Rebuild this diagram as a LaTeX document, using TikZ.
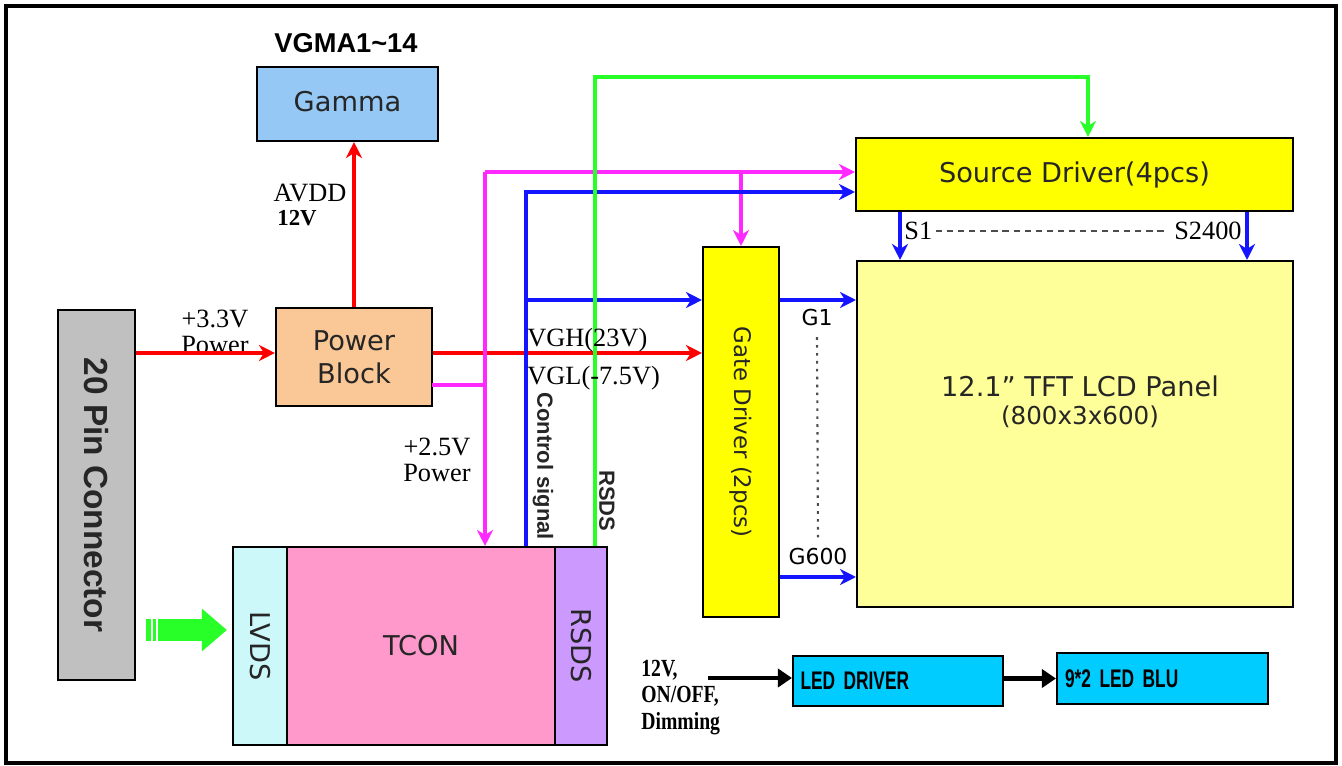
\documentclass[tikz,border=0pt]{standalone}
\usepackage{fontspec}
\setmainfont{Liberation Serif}
\setsansfont{DejaVu Sans}
\newfontfamily\arialfont{Liberation Sans}
\newfontfamily\narrowfont[FakeStretch=0.68]{Liberation Sans}
\newfontfamily\narrowserif[FakeStretch=0.8]{Liberation Serif}
\usetikzlibrary{arrows.meta, positioning, calc}

\definecolor{gammablue}{RGB}{150,200,245}
\definecolor{powerorange}{RGB}{250,200,150}
\definecolor{conngray}{RGB}{192,192,192}
\definecolor{drvyellow}{RGB}{255,255,0}
\definecolor{panelyellow}{RGB}{255,255,153}
\definecolor{lvdscyan}{RGB}{204,248,250}
\definecolor{tconpink}{RGB}{255,153,204}
\definecolor{rsdsviolet}{RGB}{204,153,255}
\definecolor{ledcyan}{RGB}{0,204,255}
\definecolor{wirered}{RGB}{255,0,0}
\definecolor{wiremag}{RGB}{255,40,255}
\definecolor{wireblue}{RGB}{20,20,255}
\definecolor{wiregreen}{RGB}{40,255,40}

\begin{document}
\begin{tikzpicture}[
    x=0.02cm, y=-0.02cm,
    block/.style={rectangle, draw, line width=1.2pt, inner sep=0pt, align=center, text=black!85, font=\sffamily\fontsize{15.5}{19}\selectfont},
    vlabel/.style={rotate=-90, inner sep=0pt, text=black!85},
    lbl/.style={inner sep=0pt, align=center, font=\fontsize{15}{17}\selectfont},
    wire/.style={line width=2pt},
    arrow/.style={wire, -{Stealth[length=0.32cm, width=0.32cm, inset=0.1cm]}},
    fat/.style={line width=2.8pt, -{Triangle[length=0.28cm, width=0.36cm]}},
]
\useasboundingbox (0,0) rectangle (1342,766);
\draw[line width=2pt] (6,6) rectangle (1336,763);

% gamma and power
\node[font=\arialfont\bfseries\fontsize{15.5}{18}\selectfont] (vgma) at (346,43) {VGMA1\textasciitilde14};
\node[block, fill=gammablue, minimum width=3.62cm, minimum height=1.48cm] (gamma) at (347.5,104) {\raisebox{0.12cm}{Gamma}};
\node[block, fill=powerorange, minimum width=3.12cm, minimum height=1.96cm] (power) at (354,357) {Power\\Block};
\node[lbl] (avdd) at (310,193) {AVDD};
\node[lbl, font=\bfseries\fontsize{13}{15}\selectfont, anchor=west] (avddv) at (277,218) {12V};

% connector
\node[block, fill=conngray, minimum width=1.54cm, minimum height=7.4cm] (conn) at (96.5,495) {};
\node[vlabel, font=\arialfont\bfseries\fontsize{19}{22}\selectfont] at (conn) {20 Pin Connector};
\node[lbl] (pin) at (215,332) {+3.3V\\[-2pt]Power};

% drivers and panel
\node[block, fill=drvyellow, minimum width=8.74cm, minimum height=1.46cm] (src) at (1074.5,174.5) {Source Driver(4pcs)};
\node[block, fill=drvyellow, minimum width=1.52cm, minimum height=7.4cm] (gate) at (741,432) {};
\node[vlabel, font=\sffamily\fontsize{13}{16}\selectfont] at (gate) {Gate Driver (2pcs)};
\node[block, fill=panelyellow, minimum width=8.72cm, minimum height=6.92cm] (panel) at (1075,434) {};
\node[align=center, text=black!85, font=\sffamily\fontsize{15.5}{19}\selectfont] (paneltxt) at (1080,402) {12.1” TFT LCD Panel\\[-3pt]{\fontsize{14}{17}\selectfont(800x3x600)}};

% tcon
\node[block, fill=lvdscyan, minimum width=1.08cm, minimum height=3.96cm] (lvds) at (260,646) {};
\node[block, fill=tconpink, minimum width=5.36cm, minimum height=3.96cm] (tcon) at (421,646) {TCON};
\node[block, fill=rsdsviolet, minimum width=1.04cm, minimum height=3.96cm] (rsds) at (581,646) {};
\node[vlabel, font=\sffamily\fontsize{15.5}{19}\selectfont] at (lvds) {LVDS};
\node[vlabel, font=\sffamily\fontsize{15.5}{19}\selectfont] at (rsds) {RSDS};

% led
\node[block, fill=ledcyan, minimum width=4.2cm, minimum height=1.0cm, text width=3.9cm, align=left, text=black, font=\narrowfont\bfseries\fontsize{14.5}{17}\selectfont] (leddrv) at (898,681) {LED DRIVER};
\node[block, fill=ledcyan, minimum width=4.22cm, minimum height=1.02cm, text width=3.9cm, align=left, text=black, font=\narrowfont\bfseries\fontsize{14.5}{17}\selectfont] (ledblu) at (1162.5,678.5) {9*2 LED BLU};
\node[inner sep=0pt, align=left, anchor=north west, font=\narrowserif\bfseries\fontsize{14}{15}\selectfont] (ledin) at (641,660) {12V,\\ON/OFF,\\Dimming};
\coordinate (ledsrc) at (708,678);

% wire corners
\coordinate (pwout) at (432,385);
\coordinate (mtop) at (485,172);
\coordinate (mjoin) at (485,385);
\coordinate (btop) at (526,192);
\coordinate (bmid) at (526,300);
\coordinate (gtop) at (595,77);
\coordinate (gright) at (1088,77);
\coordinate (s1x) at (900,0);
\coordinate (s2x) at (1247,0);
\coordinate (glow) at (0,577);

% red
\draw[arrow, wirered] (power.north) -- (power.north |- gamma.south);
\draw[arrow, wirered] (conn.east |- 0,353) -- (power.west |- 0,353);
\draw[arrow, wirered] (power.east |- 0,353) -- (gate.west |- 0,353);

% magenta
\draw[wire, wiremag] (pwout) -- (mjoin);
\draw[arrow, wiremag] (mtop) -- (mtop |- tcon.north);
\draw[arrow, wiremag] (mtop) -- (mtop -| src.west);
\draw[arrow, wiremag] (gate.north |- mtop) -- (gate.north);

% blue
\draw[arrow, wireblue] (btop |- tcon.north) -- (btop) -- (btop -| src.west);
\draw[arrow, wireblue] (bmid) -- (bmid -| gate.west);
\draw[arrow, wireblue] (gate.east |- bmid) -- (panel.west |- bmid);
\draw[arrow, wireblue] (gate.east |- glow) -- (panel.west |- glow);
\draw[arrow, wireblue] (src.south -| s1x) -- (panel.north -| s1x);
\draw[arrow, wireblue] (src.south -| s2x) -- (panel.north -| s2x);

% green
\draw[arrow, wiregreen] (gtop |- rsds.north) -- (gtop) -- (gright) -- (gright |- src.north);
\draw[wiregreen, line width=0.44cm, -{Triangle[length=0.5cm, width=0.82cm]}] ([xshift=0.2cm]conn.east |- 0,630) -- ([xshift=-0.1cm]lvds.west |- 0,630);
\foreach \sx in {152,157}
  \draw[white, line width=0.8pt] (\sx,619) -- (\sx,641);

% black
\draw[fat] (ledsrc) -- (ledsrc -| leddrv.west);
\draw[fat] (leddrv.east |- ledblu.west) -- (ledblu.west);

% labels
\node[lbl, anchor=west] (vgh) at (527,340) {VGH(23V)};
\node[lbl, anchor=west] (vgl) at (527,378) {VGL(-7.5V)};
\node[lbl] (pw25) at (437,460) {+2.5V\\[-2pt]Power};
\node[vlabel, anchor=west, font=\arialfont\bfseries\fontsize{12.5}{15}\selectfont] (ctrl) at (543,392) {Control signal};
\node[vlabel, anchor=west, font=\arialfont\bfseries\fontsize{12.5}{15}\selectfont] (rsdslbl) at (607,470) {RSDS};
\node[lbl, anchor=west] (s1) at (904,231) {S1};
\node[lbl, anchor=east] (s2400) at (1242,231) {S2400};
\draw[line width=0.7pt, black!70, dash pattern=on 3.5pt off 2.8pt] ([xshift=2pt]s1.east) -- ([xshift=-4pt]s2400.west);
\node[lbl, font=\sffamily\fontsize{12.5}{15}\selectfont] (g1) at (817,318) {G1};
\node[lbl, font=\sffamily\fontsize{12.5}{15}\selectfont] (g600) at (818,557) {G600};
\draw[line width=1.2pt, black!70, dash pattern=on 1.5pt off 3pt] ([yshift=-6pt]g1.south) -- ([yshift=4pt]g600.north);

\end{tikzpicture}
\end{document}
